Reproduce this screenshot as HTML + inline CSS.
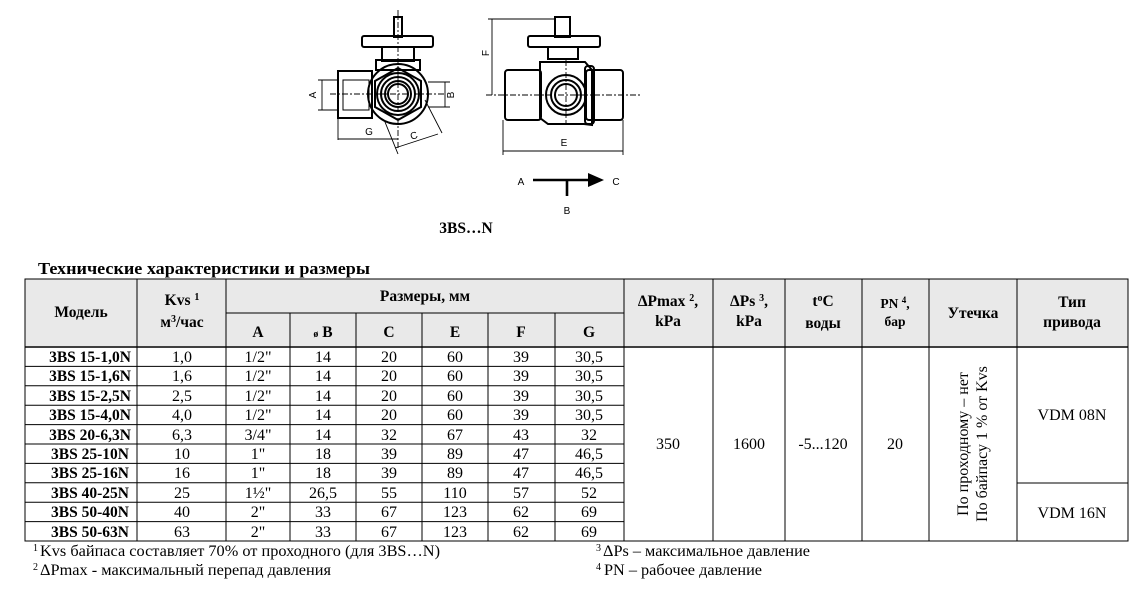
<!DOCTYPE html>
<html><head><meta charset="utf-8"><style>
html,body{margin:0;padding:0;background:#fff;}
svg{display:block;font-family:"Liberation Serif",serif;}
.b{font-weight:bold;font-size:15.5px;}
.n{font-size:16px;}
.s{font-family:"Liberation Sans",sans-serif;font-size:10px;}
</style></head><body>
<svg width="1131" height="594" viewBox="0 0 1131 594" xmlns="http://www.w3.org/2000/svg">
<g stroke="#000" fill="none" stroke-width="2">
<rect x="394" y="17" width="8" height="20" fill="#fff"/>
<rect x="362" y="36" width="71" height="11" rx="2"/>
<rect x="382" y="47" width="32" height="14"/>
<rect x="376" y="60" width="44" height="10"/>
<rect x="338" y="71" width="34" height="47"/>
<rect x="343" y="80" width="26" height="30" stroke-width="1"/>
<circle cx="398" cy="94" r="30"/>
<polygon points="398,68 421,81 421,107 398,120 375,107 375,81"/>
<circle cx="398" cy="94" r="21"/>
<circle cx="398" cy="94" r="17"/>
<circle cx="398" cy="94" r="13"/>
<circle cx="398" cy="94" r="10"/>
</g>
<g stroke="#000" stroke-width="0.9" fill="none">
<line x1="398" y1="10" x2="398" y2="150" stroke-dasharray="6,2,2,2"/>
<line x1="330" y1="94" x2="445" y2="94" stroke-dasharray="6,2,2,2"/>
<line x1="318" y1="80" x2="338" y2="80"/><line x1="318" y1="110" x2="338" y2="110"/>
<line x1="322" y1="80" x2="322" y2="110"/>
<line x1="428" y1="82" x2="450" y2="82"/><line x1="428" y1="107" x2="450" y2="107"/>
<line x1="445" y1="82" x2="445" y2="107"/>
<line x1="338" y1="118" x2="338" y2="140"/>
<line x1="338" y1="139" x2="398" y2="139"/>
<line x1="385" y1="122" x2="398" y2="154"/>
<line x1="425" y1="100" x2="442" y2="133"/>
<line x1="395" y1="148" x2="438" y2="134"/>
<line x1="488" y1="19" x2="570" y2="19"/>
<line x1="492" y1="19" x2="492" y2="95"/>
<line x1="486" y1="95" x2="640" y2="95" stroke-dasharray="6,2,2,2"/>
<line x1="566" y1="60" x2="566" y2="125" stroke-dasharray="6,2,2,2"/>
<line x1="503" y1="120" x2="503" y2="155"/><line x1="623" y1="120" x2="623" y2="155"/>
<line x1="503" y1="151" x2="623" y2="151"/>
</g>
<g stroke="#000" fill="none" stroke-width="2">
<rect x="555" y="17" width="15" height="20" fill="#fff"/>
<rect x="528" y="36" width="72" height="11" rx="2"/>
<rect x="548" y="47" width="30" height="12"/>
<rect x="505" y="70" width="36" height="50" rx="3"/>
<rect x="586" y="70" width="37" height="50" rx="3"/>
<path d="M540 62 H585 L592 70 V125 L584 124 H548 L540 118 Z"/>
<rect x="585" y="66" width="9" height="58" rx="3"/>
<circle cx="566" cy="95" r="20"/>
<circle cx="566" cy="95" r="15"/>
<circle cx="566" cy="95" r="11"/>
</g>
<g class="s" fill="#000">
<text x="313" y="98" transform="rotate(-90 313 95)" text-anchor="middle">A</text>
<text x="451" y="98" transform="rotate(-90 451 95)" text-anchor="middle">B</text>
<text x="369" y="135" text-anchor="middle">G</text>
<text x="414" y="139" transform="rotate(-20 414 136)" text-anchor="middle">C</text>
<text x="486" y="56" transform="rotate(-90 486 53)" text-anchor="middle">F</text>
<text x="564" y="146" text-anchor="middle">E</text>
<text x="521" y="185" text-anchor="middle">A</text>
<text x="616" y="185" text-anchor="middle">C</text>
<text x="567" y="214" text-anchor="middle">B</text>
</g>
<line x1="533" y1="180" x2="592" y2="180" stroke="#000" stroke-width="2.6"/>
<polygon points="588,173 604,180 588,187" fill="#000"/>
<line x1="567" y1="180" x2="567" y2="196" stroke="#000" stroke-width="2.6"/>
<text x="466" y="233" text-anchor="middle" style="font-weight:bold;font-size:15.5px">3BS…N</text>
<text x="38" y="274" style="font-weight:bold;font-size:17px" textLength="332" lengthAdjust="spacingAndGlyphs">Технические характеристики и размеры</text>
<rect x="25" y="279" width="1103" height="67" fill="#e9e9e9"/>
<g stroke="#000" stroke-width="1" fill="none">
<rect x="25" y="279" width="1103" height="262"/>
<line x1="25" y1="347" x2="1128" y2="347" stroke-width="1.6"/>
<line x1="226" y1="313" x2="624" y2="313"/>
<line x1="137" y1="279" x2="137" y2="541"/>
<line x1="226" y1="279" x2="226" y2="541"/>
<line x1="290" y1="313" x2="290" y2="541"/>
<line x1="356" y1="313" x2="356" y2="541"/>
<line x1="422" y1="313" x2="422" y2="541"/>
<line x1="488" y1="313" x2="488" y2="541"/>
<line x1="555" y1="313" x2="555" y2="541"/>
<line x1="624" y1="279" x2="624" y2="541"/>
<line x1="713" y1="279" x2="713" y2="541"/>
<line x1="785" y1="279" x2="785" y2="541"/>
<line x1="862" y1="279" x2="862" y2="541"/>
<line x1="929" y1="279" x2="929" y2="541"/>
<line x1="1017" y1="279" x2="1017" y2="541"/>
<line x1="1017" y1="483" x2="1128" y2="483"/>
<line x1="25" y1="366.4" x2="624" y2="366.4"/>
<line x1="25" y1="385.8" x2="624" y2="385.8"/>
<line x1="25" y1="405.2" x2="624" y2="405.2"/>
<line x1="25" y1="424.6" x2="624" y2="424.6"/>
<line x1="25" y1="444" x2="624" y2="444"/>
<line x1="25" y1="463.4" x2="624" y2="463.4"/>
<line x1="25" y1="482.8" x2="624" y2="482.8"/>
<line x1="25" y1="502.2" x2="624" y2="502.2"/>
<line x1="25" y1="521.6" x2="624" y2="521.6"/>
</g>
<g class="b" text-anchor="middle">
<text x="81" y="317">Модель</text>
<text x="182" y="305">Kvs <tspan font-size="10" dy="-5">1</tspan></text>
<text x="182" y="327">м<tspan font-size="10" dy="-5">3</tspan><tspan dy="5">/час</tspan></text>
<text x="425" y="301">Размеры, мм</text>
<text x="258" y="337">A</text><text x="323" y="337"><tspan font-size="10">ø</tspan> B</text>
<text x="389" y="337">C</text><text x="455" y="337">E</text>
<text x="521" y="337">F</text><text x="589" y="337">G</text>
<text x="668" y="306">ΔPmax <tspan font-size="10" dy="-5">2</tspan><tspan dy="5">,</tspan></text>
<text x="668" y="326">kPa</text>
<text x="749" y="306">ΔPs <tspan font-size="10" dy="-5">3</tspan><tspan dy="5">,</tspan></text>
<text x="749" y="326">kPa</text>
<text x="823" y="306">t<tspan font-size="10" dy="-5">o</tspan><tspan dy="5">C</tspan></text>
<text x="823" y="328">воды</text>
<text x="895" y="308" style="font-size:13.5px">PN <tspan font-size="9" dy="-5">4</tspan><tspan dy="5">,</tspan></text>
<text x="895" y="326" style="font-size:13.5px">бар</text>
<text x="973" y="318">Утечка</text>
<text x="1072" y="307">Тип</text>
<text x="1072" y="327">привода</text>
</g>
<g class="b" text-anchor="middle">
<text x="90" y="362">3BS 15-1,0N</text><text x="90" y="381">3BS 15-1,6N</text>
<text x="90" y="401">3BS 15-2,5N</text><text x="90" y="420">3BS 15-4,0N</text>
<text x="90" y="440">3BS 20-6,3N</text><text x="90" y="459">3BS 25-10N</text>
<text x="90" y="478">3BS 25-16N</text><text x="90" y="498">3BS 40-25N</text>
<text x="90" y="517">3BS 50-40N</text><text x="90" y="537">3BS 50-63N</text>
</g>
<g class="n" text-anchor="middle">
<text y="362"><tspan x="182">1,0</tspan><tspan x="258">1/2"</tspan><tspan x="323">14</tspan><tspan x="389">20</tspan><tspan x="455">60</tspan><tspan x="521">39</tspan><tspan x="589">30,5</tspan></text>
<text y="381"><tspan x="182">1,6</tspan><tspan x="258">1/2"</tspan><tspan x="323">14</tspan><tspan x="389">20</tspan><tspan x="455">60</tspan><tspan x="521">39</tspan><tspan x="589">30,5</tspan></text>
<text y="401"><tspan x="182">2,5</tspan><tspan x="258">1/2"</tspan><tspan x="323">14</tspan><tspan x="389">20</tspan><tspan x="455">60</tspan><tspan x="521">39</tspan><tspan x="589">30,5</tspan></text>
<text y="420"><tspan x="182">4,0</tspan><tspan x="258">1/2"</tspan><tspan x="323">14</tspan><tspan x="389">20</tspan><tspan x="455">60</tspan><tspan x="521">39</tspan><tspan x="589">30,5</tspan></text>
<text y="440"><tspan x="182">6,3</tspan><tspan x="258">3/4"</tspan><tspan x="323">14</tspan><tspan x="389">32</tspan><tspan x="455">67</tspan><tspan x="521">43</tspan><tspan x="589">32</tspan></text>
<text y="459"><tspan x="182">10</tspan><tspan x="258">1"</tspan><tspan x="323">18</tspan><tspan x="389">39</tspan><tspan x="455">89</tspan><tspan x="521">47</tspan><tspan x="589">46,5</tspan></text>
<text y="478"><tspan x="182">16</tspan><tspan x="258">1"</tspan><tspan x="323">18</tspan><tspan x="389">39</tspan><tspan x="455">89</tspan><tspan x="521">47</tspan><tspan x="589">46,5</tspan></text>
<text y="498"><tspan x="182">25</tspan><tspan x="258">1½"</tspan><tspan x="323">26,5</tspan><tspan x="389">55</tspan><tspan x="455">110</tspan><tspan x="521">57</tspan><tspan x="589">52</tspan></text>
<text y="517"><tspan x="182">40</tspan><tspan x="258">2"</tspan><tspan x="323">33</tspan><tspan x="389">67</tspan><tspan x="455">123</tspan><tspan x="521">62</tspan><tspan x="589">69</tspan></text>
<text y="537"><tspan x="182">63</tspan><tspan x="258">2"</tspan><tspan x="323">33</tspan><tspan x="389">67</tspan><tspan x="455">123</tspan><tspan x="521">62</tspan><tspan x="589">69</tspan></text>
<text x="668" y="449">350</text><text x="749" y="449">1600</text>
<text x="823" y="449">-5...120</text><text x="895" y="449">20</text>
<text x="1072" y="420">VDM 08N</text><text x="1072" y="518">VDM 16N</text>
<text transform="translate(968 444) rotate(-90)" text-anchor="middle" x="0" y="0" dx="0">По проходному – нет</text>
<text transform="translate(987 444) rotate(-90)" text-anchor="middle">По байпасу 1 % от Kvs</text>
</g>
<g class="n">
<text x="33" y="551" font-size="10">1</text>
<text x="40" y="556" textLength="400" lengthAdjust="spacingAndGlyphs">Kvs байпаса составляет 70% от проходного (для 3BS…N)</text>
<text x="33" y="570" font-size="10">2</text>
<text x="40" y="575" textLength="291" lengthAdjust="spacingAndGlyphs">ΔPmax - максимальный перепад давления</text>
<text x="596" y="551" font-size="10">3</text>
<text x="603" y="556" textLength="207" lengthAdjust="spacingAndGlyphs">ΔPs – максимальное давление</text>
<text x="596" y="570" font-size="10">4</text>
<text x="604" y="575" textLength="158" lengthAdjust="spacingAndGlyphs">PN – рабочее давление</text>
</g>
</svg>
</body></html>
